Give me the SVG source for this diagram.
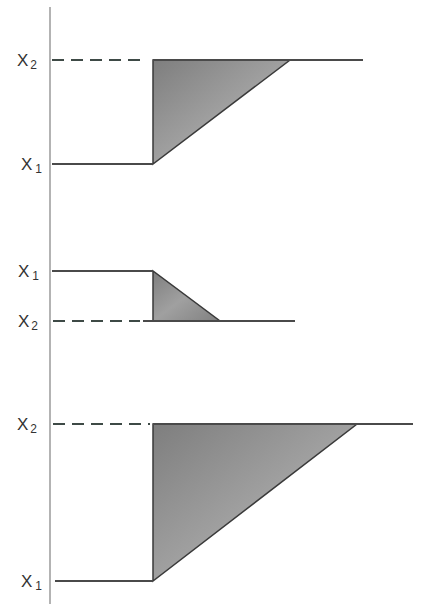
<svg xmlns="http://www.w3.org/2000/svg" width="423" height="604" viewBox="0 0 423 604">
<style>
.ln{stroke:#4a4a4a;stroke-width:2;fill:none}
.ax{stroke:#9a9a9a;stroke-width:1.5;fill:none}
.ds{stroke:#3e4a46;stroke-width:2;stroke-dasharray:12,7;fill:none}
.tri{fill:url(#g);stroke:#3a3a3a;stroke-width:1.5}
.lb{font-family:"Liberation Sans",Arial,sans-serif;font-size:17px;fill:#333}
.sb{font-size:12px}
</style>
<defs>
<linearGradient id="g" x1="0" y1="0" x2="1" y2="1">
<stop offset="0" stop-color="#7e7e7e"/>
<stop offset="0.5" stop-color="#a0a0a0"/>
<stop offset="1" stop-color="#808080"/>
</linearGradient>
</defs>
<g id="axis"><line class="ax" x1="50" y1="7" x2="50" y2="604"/></g>
<g id="panel1">
<polygon class="tri" points="153,60 290,60 153,164"/>
<line class="ds" x1="52" y1="60" x2="142" y2="60"/>
<line class="ln" x1="153" y1="60" x2="363" y2="60"/>
<line class="ln" x1="52" y1="164" x2="153" y2="164"/>
<text class="lb" x="17" y="66">X<tspan class="sb" dx="2" dy="3">2</tspan></text>
<text class="lb" x="21" y="170">X<tspan class="sb" dx="3" dy="3">1</tspan></text>
</g>
<g id="panel2">
<polygon class="tri" points="153,271 153,321 220,321"/>
<line class="ln" x1="52" y1="271" x2="153" y2="271"/>
<line class="ds" x1="53" y1="321" x2="140" y2="321"/>
<line class="ln" x1="143" y1="321" x2="295" y2="321"/>
<text class="lb" x="18" y="277">X<tspan class="sb" dx="3" dy="3">1</tspan></text>
<text class="lb" x="18" y="327">X<tspan class="sb" dx="2" dy="3">2</tspan></text>
</g>
<g id="panel3">
<polygon class="tri" points="153,424 357,424 153,581"/>
<line class="ds" x1="53" y1="424" x2="150" y2="424"/>
<line class="ln" x1="153" y1="424" x2="413" y2="424"/>
<line class="ln" x1="55" y1="581" x2="153" y2="581"/>
<text class="lb" x="17" y="430">X<tspan class="sb" dx="2" dy="3">2</tspan></text>
<text class="lb" x="21" y="587">X<tspan class="sb" dx="3" dy="3">1</tspan></text>
</g>
</svg>
